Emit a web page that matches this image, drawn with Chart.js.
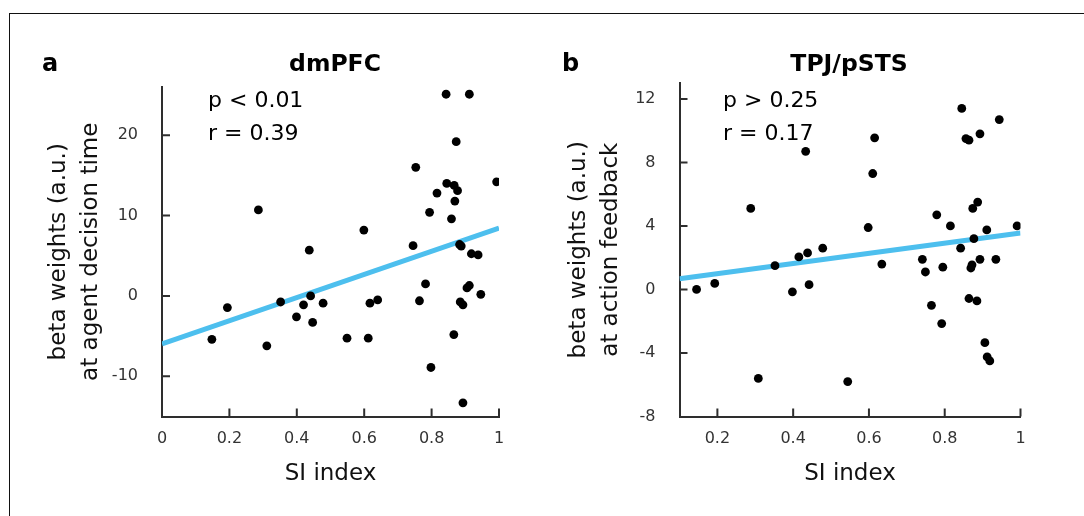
<!DOCTYPE html>
<html>
<head>
<meta charset="utf-8">
<script src="https://cdn.jsdelivr.net/npm/chart.js@4.4.1/dist/chart.umd.min.js"></script>
<style>
  html, body { margin: 0; padding: 0; background: #fff; }
  body { width: 1084px; height: 516px; position: relative; overflow: hidden; }
  .frame {
    position: absolute; left: 9px; top: 13px; width: 1200px; height: 600px;
    border-left: 1.5px solid #111; border-top: 1.5px solid #111;
  }
  .panel { position: absolute; top: 0; height: 516px; }
  #panelA { left: 0; width: 540px; }
  #panelB { left: 540px; width: 544px; }
</style>
</head>
<body>
<div class="frame"></div>
<div class="panel" id="panelA"><canvas id="chartA"></canvas></div>
<div class="panel" id="panelB"><canvas id="chartB"></canvas></div>
<script>
// panel a: dmPFC
const siA = [0.843, 0.912, 0.873, 0.753, 0.845, 0.867, 0.877, 0.816, 0.993, 0.869,
  0.794, 0.859, 0.286, 0.599, 0.745, 0.883, 0.888, 0.918, 0.938, 0.437,
  0.782, 0.912, 0.905, 0.946, 0.441, 0.352, 0.420, 0.478, 0.617, 0.640,
  0.764, 0.885, 0.893, 0.194, 0.399, 0.447, 0.148, 0.311, 0.549, 0.612,
  0.866, 0.798, 0.893];
const betaA = [25.1, 25.1, 19.2, 16.0, 14.0, 13.75, 13.1, 12.8, 14.2, 11.8,
  10.4, 9.6, 10.7, 8.2, 6.25, 6.4, 6.2, 5.25, 5.1, 5.7,
  1.5, 1.3, 1.0, 0.2, 0.0, -0.75, -1.1, -0.9, -0.9, -0.5,
  -0.6, -0.75, -1.1, -1.45, -2.6, -3.3, -5.4, -6.2, -5.25, -5.25,
  -4.8, -8.9, -13.3];
const fitXA = [0, 1];
const fitYA = [-5.95, 8.45];
const xTicksA = [0, 0.2, 0.4, 0.6, 0.8, 1];
const xLabelsA = ['0', '0.2', '0.4', '0.6', '0.8', '1'];
const yTicksA = [-10, 0, 10, 20];
const yLabelsA = ['-10', '0', '10', '20'];

// panel b: TPJ/pSTS
const siB = [0.145, 0.193, 0.288, 0.308, 0.352, 0.398, 0.415, 0.433, 0.438, 0.442,
  0.478, 0.544, 0.598, 0.610, 0.615, 0.634, 0.741, 0.749, 0.765, 0.779,
  0.792, 0.795, 0.815, 0.845, 0.842, 0.856, 0.864, 0.864, 0.869, 0.872,
  0.874, 0.877, 0.885, 0.887, 0.893, 0.893, 0.906, 0.911, 0.912, 0.919,
  0.935, 0.944, 0.991];
const betaB = [0, 0.38, 5.1, -5.6, 1.5, -0.15, 2.05, 8.7, 2.3, 0.3,
  2.6, -5.8, 3.9, 7.3, 9.55, 1.6, 1.9, 1.1, -1.0, 4.7,
  -2.15, 1.4, 4.0, 11.4, 2.6, 9.5, 9.4, -0.57, 1.35, 1.55,
  5.1, 3.2, -0.72, 5.5, 9.8, 1.9, -3.35, 3.75, -4.25, -4.5,
  1.9, 10.7, 4.0];
const fitXB = [0.1, 1];
const fitYB = [0.68, 3.55];
const xTicksB = [0.2, 0.4, 0.6, 0.8, 1];
const xLabelsB = ['0.2', '0.4', '0.6', '0.8', '1'];
const yTicksB = [-8, -4, 0, 4, 8, 12];
const yLabelsB = ['-8', '-4', '0', '4', '8', '12'];

const AXIS_COLOR = '#2e2e2e';
const TICK_COLOR = '#333';
const FIT_COLOR = '#4dbfee';
const FONT = '"DejaVu Sans"';

Chart.defaults.font.family = FONT;

// MATLAB-style ticks pointing into the plot
const innerTicks = {
  id: 'innerTicks',
  afterDatasetsDraw(chart) {
    const { ctx, chartArea: a, scales: { x, y } } = chart;
    ctx.save();
    ctx.strokeStyle = AXIS_COLOR;
    ctx.lineWidth = 2;
    ctx.beginPath();
    x.ticks.forEach((t) => {
      const px = x.getPixelForValue(t.value);
      if (px - a.left < 2) return;
      ctx.moveTo(px, a.bottom);
      ctx.lineTo(px, a.bottom - 8);
    });
    y.ticks.forEach((t) => {
      const py = y.getPixelForValue(t.value);
      if (a.bottom - py < 2) return;
      ctx.moveTo(a.left, py);
      ctx.lineTo(a.left + 8, py);
    });
    ctx.stroke();
    ctx.restore();
  },
};

const panelText = {
  id: 'panelText',
  afterDraw(chart, args, opts) {
    const { ctx } = chart;
    ctx.save();
    ctx.fillStyle = '#000';
    ctx.textBaseline = 'alphabetic';
    ctx.textAlign = 'left';
    ctx.font = `bold 24px ${FONT}`;
    ctx.fillText(opts.letter, opts.letterX, 71);
    ctx.textAlign = 'center';
    ctx.font = `bold 23.5px ${FONT}`;
    ctx.fillText(opts.title, opts.titleX, 71);
    ctx.textAlign = 'left';
    ctx.font = `22px ${FONT}`;
    opts.stats.forEach((s, i) => ctx.fillText(s, opts.statsX, 107 + i * 33));
    ctx.restore();
  },
};

function makePanel(id, p) {
  const points = p.si.map((x, i) => ({ x, y: p.beta[i] }));
  const fit = p.fitX.map((x, i) => ({ x, y: p.fitY[i] }));
  return new Chart(document.getElementById(id), {
    type: 'scatter',
    data: {
      datasets: [
        { type: 'scatter', data: points, backgroundColor: '#000', borderWidth: 0, pointRadius: 4.4, order: 1 },
        { type: 'line', data: fit, borderColor: FIT_COLOR, borderWidth: 5, pointRadius: 0, fill: false, order: 2 },
      ],
    },
    options: {
      responsive: true,
      maintainAspectRatio: false,
      animation: false,
      events: [],
      layout: { padding: p.padding },
      scales: {
        x: {
          type: 'linear',
          min: p.xMin,
          max: p.xMax,
          grid: { display: false },
          border: { display: true, color: AXIS_COLOR, width: 2 },
          afterBuildTicks: (s) => { s.ticks = p.xTicks.map((v) => ({ value: v })); },
          ticks: { padding: 5, color: TICK_COLOR, font: { size: 16 }, autoSkip: false, maxRotation: 0,
            callback: (v, i) => p.xLabels[i] },
          title: { display: true, text: 'SI index', color: '#111', font: { size: 23, lineHeight: 1.4 },
            padding: { top: 0, bottom: 26 } },
          afterFit: (s) => { s.height = 99.5; },
        },
        y: {
          type: 'linear',
          min: p.yMin,
          max: p.yMax,
          grid: { display: false },
          border: { display: true, color: AXIS_COLOR, width: 2 },
          afterBuildTicks: (s) => { s.ticks = p.yTicks.map((v) => ({ value: v })); },
          ticks: { padding: 16, color: TICK_COLOR, font: { size: 16 }, autoSkip: false,
            callback: (v, i) => p.yLabels[i] },
          title: { display: true, text: p.yTitle, color: '#111', font: { size: 23, lineHeight: 1.4 },
            padding: 0 },
          afterFit: (s) => { s.width = p.yWidth; },
        },
      },
      plugins: {
        legend: { display: false },
        tooltip: { enabled: false },
        panelText: p.text,
      },
    },
    plugins: [innerTicks, panelText],
  });
}

makePanel('chartA', {
  si: siA, beta: betaA, fitX: fitXA, fitY: fitYA,
  xMin: 0, xMax: 1, yMin: -15, yMax: 26,
  xTicks: xTicksA, xLabels: xLabelsA, yTicks: yTicksA, yLabels: yLabelsA,
  yTitle: ['beta weights (a.u.)', 'at agent decision time'],
  padding: { left: 43, top: 87, right: 41, bottom: 0 },
  yWidth: 119,
  text: { letter: 'a', letterX: 42, title: 'dmPFC', titleX: 335, stats: ['p < 0.01', 'r = 0.39'], statsX: 208 },
});

makePanel('chartB', {
  si: siB, beta: betaB, fitX: fitXB, fitY: fitYB,
  xMin: 0.1, xMax: 1, yMin: -8, yMax: 13,
  xTicks: xTicksB, xLabels: xLabelsB, yTicks: yTicksB, yLabels: yLabelsB,
  yTitle: ['beta weights (a.u.)', 'at action feedback'],
  padding: { left: 23, top: 83, right: 63.5, bottom: 0 },
  yWidth: 116.5,
  text: { letter: 'b', letterX: 22, title: 'TPJ/pSTS', titleX: 309, stats: ['p > 0.25', 'r = 0.17'], statsX: 183 },
});
</script>
</body>
</html>
